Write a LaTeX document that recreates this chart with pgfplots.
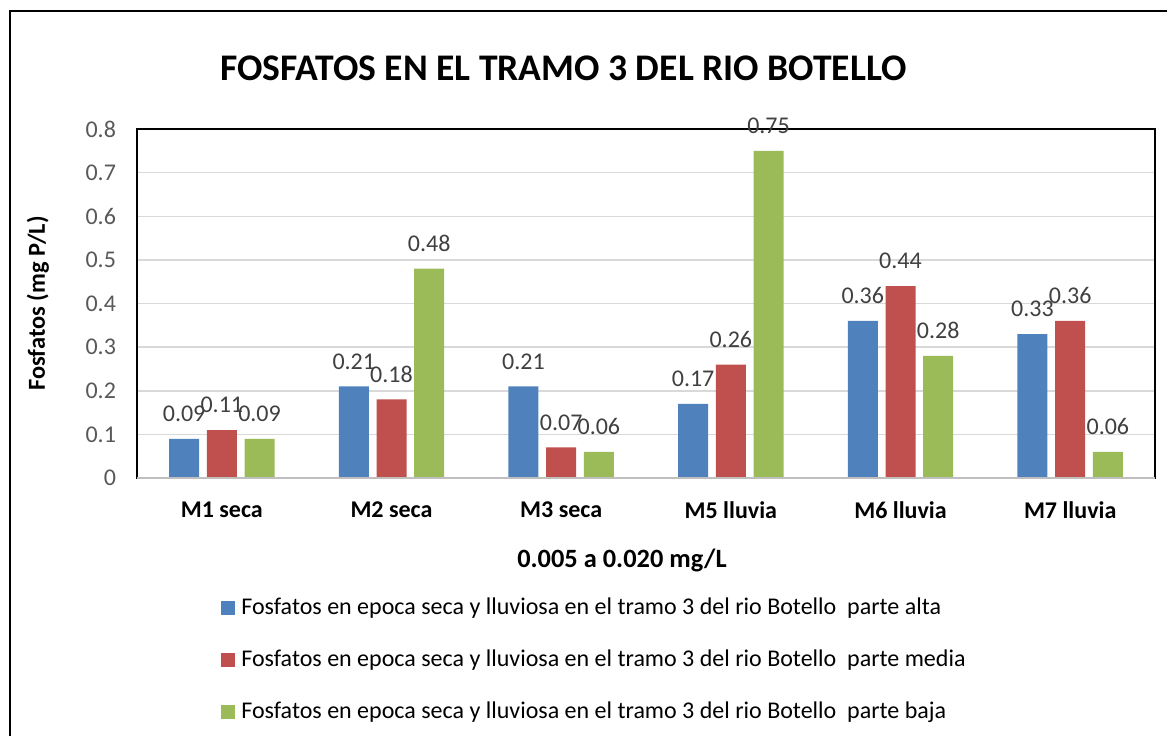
\documentclass[border=0pt]{standalone}
\usepackage{fontspec}
\setmainfont{Carlito}
\usepackage{pgfplots}
\pgfplotsset{compat=1.18}
\definecolor{sAlta}{HTML}{4F81BD}
\definecolor{sMedia}{HTML}{C0504D}
\definecolor{sBaja}{HTML}{9BBB59}
\definecolor{tickgray}{HTML}{595959}
\definecolor{lblgray}{HTML}{404040}
\definecolor{gridgray}{HTML}{D9D9D9}
\definecolor{basegray}{HTML}{BFBFBF}
\begin{document}
\begin{tikzpicture}
\path[use as bounding box] (0pt,0pt) rectangle (583.5pt,-368pt);
\draw[line width=1pt] (5pt,-368pt) -- (5pt,-5.5pt) -- (583.5pt,-5.5pt);
\node[font=\bfseries\fontsize{18.8}{22}\selectfont] at (281.75pt,-34pt) {FOSFATOS EN EL TRAMO 3 DEL RIO BOTELLO};
\begin{axis}[
  at={(68.5pt,-239pt)}, anchor=south west,
  scale only axis, width=509pt, height=174.5pt,
  ybar=3.85pt, bar width=15pt,
  xmin=-0.5, xmax=5.5, ymin=0, ymax=0.8,
  enlarge x limits=false, enlarge y limits=false,
  xtick={0,1,2,3,4,5},
  xticklabels={M1 seca, M2 seca, M3 seca, M5 lluvia, M6 lluvia, M7 lluvia},
  ytick={0,0.1,0.2,0.3,0.4,0.5,0.6,0.7,0.8},
  /pgf/number format/assume math mode=true,
  yticklabel={\pgfmathprintnumber[fixed,precision=1]{\tick}},
  major tick length=0pt,
  ymajorgrids, major grid style={color=gridgray, line width=0.75pt},
  axis line style={black, line width=0.75pt},
  xticklabel style={font=\bfseries\fontsize{12}{14}\selectfont, anchor=center, yshift=-16pt},
  yticklabel style={font=\fontsize{12}{14}\selectfont, color=tickgray, anchor=east, xshift=-7pt},
  ylabel={Fosfatos (mg P/L)},
  ylabel style={font=\bfseries\fontsize{12.2}{14}\selectfont, at={(axis description cs:-0.0973,0.5)}, anchor=center, rotate=0},
  xlabel={0.005 a 0.020 mg/L},
  xlabel style={font=\bfseries\fontsize{13.2}{15}\selectfont, at={(axis description cs:0.4764,-0.235)}, anchor=center},
  nodes near coords={\pgfmathprintnumber[fixed,zerofill,precision=2]{\pgfplotspointmeta}},
  every node near coord/.append style={font=\fontsize{12}{14}\selectfont, color=lblgray, yshift=5pt},
  clip=false,
  legend style={at={(axis description cs:0.0825,-0.341)}, anchor=north west, draw=none, fill=none,
    font=\fontsize{12}{14}\selectfont, inner sep=0pt, row sep=15pt, column sep=3pt,
    nodes={inner sep=0pt, text height=8.5pt, text depth=2.5pt}},
  legend cell align=left,
  legend image code/.code={\fill[#1] (0pt,-3.5pt) rectangle (7pt,3.5pt);},
]
\addplot[fill=sAlta, draw=none] coordinates {(0,0.09) (1,0.21) (2,0.21) (3,0.17) (4,0.36) (5,0.33)};
\addplot[fill=sMedia, draw=none] coordinates {(0,0.11) (1,0.18) (2,0.07) (3,0.26) (4,0.44) (5,0.36)};
\addplot[fill=sBaja, draw=none] coordinates {(0,0.09) (1,0.48) (2,0.06) (3,0.75) (4,0.28) (5,0.06)};
\draw[color=basegray, line width=1pt] (rel axis cs:0,0) -- (rel axis cs:1,0);
\legend{Fosfatos en epoca seca y lluviosa en el tramo 3 del rio Botello~ parte alta,
        Fosfatos en epoca seca y lluviosa en el tramo 3 del rio Botello~ parte media,
        Fosfatos en epoca seca y lluviosa en el tramo 3 del rio Botello~ parte baja}
\end{axis}
\end{tikzpicture}
\end{document}
